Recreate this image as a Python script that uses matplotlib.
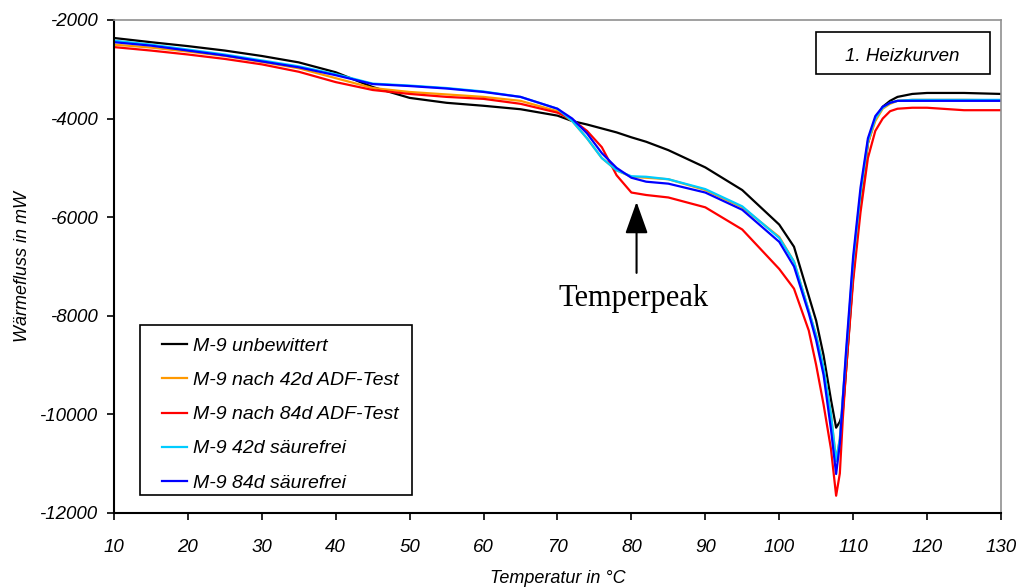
import matplotlib
matplotlib.use("Agg")
import matplotlib.pyplot as plt
from matplotlib.patches import Rectangle

# temperature points (degC) the curves were read at
temp = [10, 15, 20, 25, 30, 35, 40, 45, 50, 55, 60, 65, 70, 72, 74, 76, 78, 80,
        82, 85, 90, 95, 100, 102, 104, 105, 106, 107, 107.7, 108.2, 108.6, 109,
        110, 111, 112, 113, 114, 115, 116, 118, 120, 125, 130]

# heat flow in mW
unbewittert = [-2365, -2450, -2530, -2620, -2730, -2860, -3060, -3360, -3580, -3680,
               -3740, -3810, -3940, -4050, -4120, -4200, -4280, -4380, -4470, -4640,
               -4990, -5450, -6150, -6600, -7600, -8100, -8800, -9700, -10270, -10150,
               -9950, -9200, -7200, -5700, -4500, -4000, -3760, -3640, -3560, -3500,
               -3480, -3480, -3500]
adf_42d = [-2500, -2560, -2640, -2730, -2850, -2980, -3180, -3380, -3460, -3510,
           -3560, -3640, -3850, -4050, -4400, -4800, -5050, -5180, -5200, -5230,
           -5450, -5800, -6400, -6900, -7900, -8400, -9050, -10000, -10920, -10500,
           -9700, -9000, -7000, -5600, -4500, -4050, -3800, -3700, -3640, -3620,
           -3620, -3620, -3630]
adf_84d = [-2550, -2620, -2700, -2790, -2900, -3050, -3260, -3420, -3500, -3560,
           -3600, -3700, -3880, -4020, -4250, -4580, -5150, -5500, -5550, -5600,
           -5800, -6250, -7050, -7450, -8300, -9000, -9800, -10700, -11650, -11200,
           -10100, -9200, -7300, -5900, -4800, -4250, -4000, -3850, -3800, -3780,
           -3780, -3830, -3830]
saeurefrei_42d = [-2420, -2500, -2600, -2700, -2820, -2940, -3100, -3290, -3330, -3380,
                  -3450, -3560, -3800, -4050, -4400, -4800, -5050, -5170, -5180, -5230,
                  -5430, -5780, -6420, -6900, -7900, -8400, -9050, -10000, -10950, -10500,
                  -9650, -8900, -6900, -5500, -4450, -4000, -3780, -3680, -3640, -3620,
                  -3620, -3620, -3620]
saeurefrei_84d = [-2450, -2520, -2620, -2720, -2840, -2960, -3120, -3300, -3340, -3390,
                  -3460, -3560, -3800, -4000, -4300, -4700, -5000, -5200, -5280, -5320,
                  -5500, -5850, -6500, -7000, -7950, -8500, -9200, -10300, -11210, -10600,
                  -9700, -8800, -6800, -5400, -4400, -3950, -3760, -3680, -3640, -3640,
                  -3640, -3640, -3640]

series = [
    ("M-9 unbewittert", unbewittert, "black"),
    ("M-9 nach 42d ADF-Test", adf_42d, "#FF9900"),
    ("M-9 nach 84d ADF-Test", adf_84d, "#FF0000"),
    ("M-9 42d säurefrei", saeurefrei_42d, "#00CCFF"),
    ("M-9 84d säurefrei", saeurefrei_84d, "#0000FF"),
]

plt.rcParams['font.family'] = ['Liberation Sans', 'DejaVu Sans']
plt.rcParams['axes.unicode_minus'] = False

fig = plt.figure(figsize=(10.24, 5.88), dpi=100)
ax = fig.add_axes([0.1113, 0.1276, 0.8662, 0.8384])

for label, vals, col in series:
    ax.plot(temp, vals, color=col, lw=1.6, label=label)

ax.set_xlim(10, 130)
ax.set_ylim(-12000, -2000)
ax.set_xticks(range(10, 131, 10))
ax.set_yticks(range(-12000, -1999, 2000))
ax.tick_params(direction='out', length=5, width=1.2, labelsize=13.5, pad=7)
for lab in ax.get_xticklabels() + ax.get_yticklabels():
    lab.set_fontstyle('italic')
ax.tick_params(axis='x', pad=14)

for s in ['left', 'bottom']:
    ax.spines[s].set_color('black')
    ax.spines[s].set_linewidth(1.5)
for s in ['top', 'right']:
    ax.spines[s].set_color('#909090')
    ax.spines[s].set_linewidth(1.2)

ax.set_xlabel("Temperatur in °C", fontsize=13, style='italic', labelpad=10)
ax.set_ylabel("Wärmefluss in mW", fontsize=13, style='italic', labelpad=6)

# legend without its own frame, the box is drawn separately
leg = ax.legend(loc='upper left', bbox_to_anchor=(0.0541, 0.356),
                prop={'style': 'italic', 'size': 14}, frameon=False,
                handlelength=1.29, labelspacing=0.85,
                borderpad=0, handletextpad=0.31, borderaxespad=0)
for line in leg.get_lines():
    line.set_linewidth(1.6)
ax.add_patch(Rectangle((0.0293, 0.0365), 0.3067, 0.345, transform=ax.transAxes,
                       fill=False, edgecolor='black', lw=1.2, zorder=5))

# box with "1. Heizkurven"
ax.add_patch(Rectangle((0.791, 0.890), 0.197, 0.085, transform=ax.transAxes,
                       fill=False, edgecolor='black', lw=1.2))
ax.text(0.889, 0.925, "1. Heizkurven", transform=ax.transAxes, ha='center',
        va='center', fontsize=13.5, style='italic')

# arrow pointing at the temper peak
ax.annotate("", xy=(80.7, -5690), xytext=(80.7, -7130),
            arrowprops=dict(arrowstyle='-|>,head_length=1.4,head_width=0.5',
                            color='black', lw=1.5, mutation_scale=14,
                            shrinkA=0, shrinkB=0))
ax.text(80.3, -7640, "Temperpeak", ha='center', va='center', fontsize=22,
        family='Liberation Serif')

fig.savefig("out.png", dpi=100)
